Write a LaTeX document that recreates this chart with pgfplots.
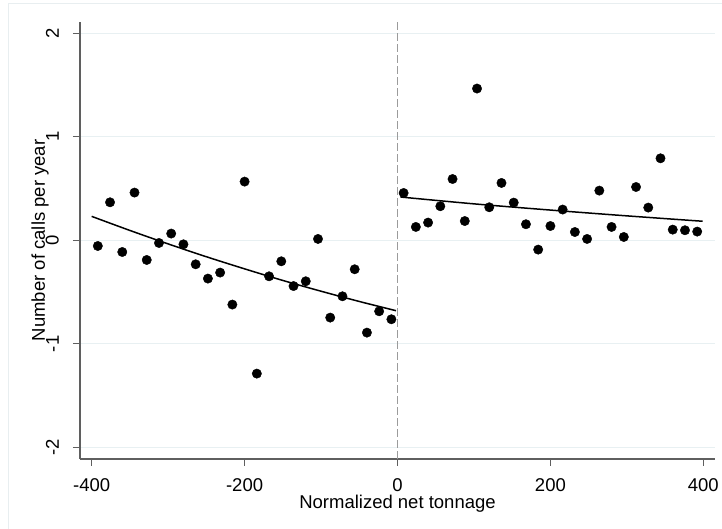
\documentclass[border=0pt]{standalone}
\usepackage{fontspec}
\setmainfont{Liberation Sans}
\usepackage{pgfplots}
\pgfplotsset{compat=1.18}
\definecolor{gridc}{RGB}{232,240,242}
\definecolor{framec}{RGB}{232,238,240}
\definecolor{axc}{RGB}{95,95,95}
\definecolor{dashc}{RGB}{155,155,155}
\newcommand{\bigf}{\fontsize{18.5bp}{22bp}\selectfont}
\begin{document}
\begin{tikzpicture}[x=1bp,y=1bp]
\useasboundingbox (-80,-70) rectangle (642,459);
\draw[framec, line width=1bp] (-71.7,-75) -- (-71.7,455.7) -- (650,455.7);
\begin{axis}[
  at={(0,0)}, anchor=south west,
  scale only axis, width=635bp, height=437.3bp,
  xmin=-415.3, xmax=415.3, ymin=-2.113, ymax=2.112,
  axis x line*=bottom, axis y line*=left,
  axis line style={axc, line width=1.2bp, -},
  xtick={-400,-200,0,200,400}, xticklabels={-400,-200,0,200,400},
  ytick={-2,-1,0,1,2}, yticklabels={-2,-1,0,1,2},
  tick align=outside, major tick length=7bp,
  tick style={axc, line width=1bp},
  ymajorgrids, grid style={gridc, line width=1.2bp},
  every tick label/.append style={font=\bigf},
  xticklabel style={anchor=north, inner sep=0pt},
  yticklabel style={rotate=90, anchor=south, inner sep=0pt},
  xticklabel shift=12bp, yticklabel shift=14bp,
  xlabel={Normalized net tonnage},
  xlabel style={font=\bigf, at={(axis description cs:0.5,-0.0816)}, anchor=north, inner sep=0pt},
  ylabel={Number of calls per year},
  ylabel style={font=\bigf, at={(axis description cs:-0.0488,0.5)}, anchor=south, inner sep=0pt},
  clip=false,
]
\addplot[dashc, line width=1.4bp, dash pattern=on 7.5bp off 3.5bp] coordinates {(0,-2.113) (0,2.112)};
% left bins
\addplot[only marks, mark=*, mark size=4.7bp, black] coordinates {
(-392,-0.055) (-376,0.367) (-360,-0.113) (-344,0.461) (-328,-0.190)
(-312,-0.026) (-296,0.065) (-280,-0.039) (-264,-0.232) (-248,-0.370)
(-232,-0.312) (-216,-0.621) (-200,0.567) (-184,-1.288) (-168,-0.348)
(-152,-0.203) (-136,-0.442) (-120,-0.396) (-104,0.013) (-88,-0.747)
(-72,-0.541) (-56,-0.280) (-40,-0.892) (-24,-0.686) (-8,-0.763)
};
% right bins
\addplot[only marks, mark=*, mark size=4.7bp, black] coordinates {
(8,0.457) (24,0.129) (40,0.171) (56,0.329) (72,0.592)
(88,0.186) (104,1.466) (120,0.319) (136,0.554) (152,0.364)
(168,0.155) (184,-0.090) (200,0.138) (216,0.297) (232,0.080)
(248,0.013) (264,0.480) (280,0.129) (296,0.032) (312,0.515)
(328,0.316) (344,0.792) (360,0.103) (376,0.097) (392,0.084)
};
% fitted lines
\addplot[black, line width=1.5bp, smooth, no marks] coordinates {
(-400,0.231) (-350,0.095) (-300,-0.035) (-250,-0.159) (-200,-0.276)
(-150,-0.388) (-100,-0.492) (-50,-0.591) (-2,-0.680)
};
\addplot[black, line width=1.5bp, smooth, no marks] coordinates {
(4,0.418) (100,0.352) (200,0.292) (300,0.236) (399,0.184)
};
\end{axis}
\end{tikzpicture}
\end{document}
